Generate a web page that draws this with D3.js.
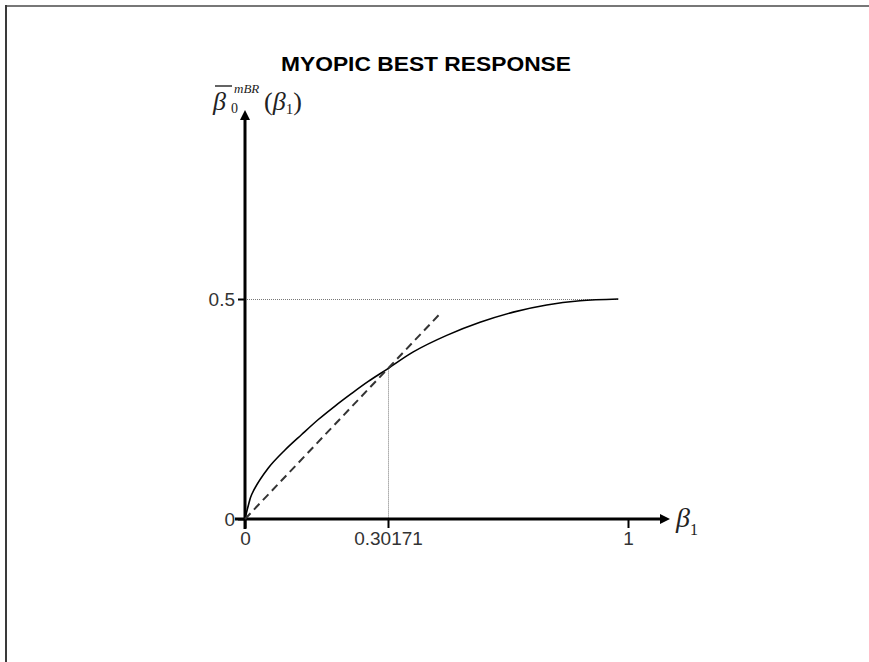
<!DOCTYPE html>
<html>
<head>
<meta charset="utf-8">
<script src="https://cdnjs.cloudflare.com/ajax/libs/d3/7.8.5/d3.min.js"></script>
<style>
  html, body { margin: 0; background: #fff; overflow: hidden; }
  svg { display: block; }
  .tick text { font-family: "Liberation Sans", Arial, sans-serif; font-size: 19px; fill: #333; }
  .math { font-family: "Liberation Serif", "Times New Roman", serif; font-style: italic; fill: #222; }
</style>
</head>
<body>
<div id="chart"></div>
<script>
// x ticks (the figure is not drawn to scale: 0.30171 sits where the curves cross)
var xTicks = [0, 0.30171, 1];
var xTickLabels = ["0", "0.30171", "1"];
var yTicks = [0, 0.5];
var yTickLabels = ["0", "0.5"];

// myopic best response curve
var brX = [0, 0.0070, 0.0141, 0.0492, 0.0844, 0.1196, 0.1547, 0.1899, 0.2251, 0.2601, 0.30171, 0.3753, 0.4725, 0.5694, 0.6663, 0.7634, 0.8603, 0.9718];
var brY = [0, 0.0307, 0.0557, 0.1159, 0.1568, 0.1920, 0.2261, 0.2568, 0.2855, 0.3127, 0.3418, 0.3798, 0.4173, 0.4470, 0.4702, 0.4864, 0.4959, 0.5];

// dashed line from the origin
var diagX = [0, 0.4559];
var diagY = [0, 0.4689];

var crossX = 0.30171;
var crossY = 0.3418;
var capY = 0.5;
var capEndX = 0.9718;

var W = 869, H = 662;

var svg = d3.select("#chart").append("svg")
    .attr("width", W)
    .attr("height", H);

svg.append("rect").attr("width", W).attr("height", H).attr("fill", "#fff");

// frame
svg.append("line").attr("x1", 6).attr("y1", 6).attr("x2", W).attr("y2", 6)
    .attr("stroke", "#777").attr("stroke-width", 2);
svg.append("line").attr("x1", 6).attr("y1", 5).attr("x2", 6).attr("y2", H)
    .attr("stroke", "#3a3a3a").attr("stroke-width", 2);

var x = d3.scaleLinear().domain(xTicks).range([245, 388, 628]);
var y = d3.scaleLinear().domain([0, 0.5]).range([519, 299]);

svg.append("defs").append("marker")
    .attr("id", "arrow")
    .attr("viewBox", "0 0 10 10")
    .attr("refX", 0).attr("refY", 5)
    .attr("markerWidth", 10).attr("markerHeight", 10)
    .attr("markerUnits", "userSpaceOnUse")
    .attr("orient", "auto")
    .append("path").attr("d", "M0,0L10,5L0,10z").attr("fill", "#000");

// reference lines (half pixel offset keeps the dots crisp)
svg.append("line")
    .attr("x1", x(0)).attr("x2", x(capEndX))
    .attr("y1", y(capY) + 0.5).attr("y2", y(capY) + 0.5)
    .attr("stroke", "#777").attr("stroke-width", 1).attr("stroke-dasharray", "1,1");
svg.append("line")
    .attr("x1", x(crossX) + 0.5).attr("x2", x(crossX) + 0.5)
    .attr("y1", y(crossY)).attr("y2", y(0))
    .attr("stroke", "#777").attr("stroke-width", 1).attr("stroke-dasharray", "1,1");

// axes
var xAxis = d3.axisBottom(x).tickValues(xTicks).tickSize(9).tickSizeOuter(0).tickPadding(4)
    .tickFormat(function (d, i) { return xTickLabels[i]; });
var yAxis = d3.axisLeft(y).tickValues(yTicks).tickSize(7).tickSizeOuter(0).tickPadding(3)
    .tickFormat(function (d, i) { return yTickLabels[i]; });

var gx = svg.append("g").attr("transform", "translate(0," + y(0) + ")").call(xAxis);
var gy = svg.append("g").attr("transform", "translate(" + x(0) + ",0)").call(yAxis);
gx.select(".domain").remove();
gy.select(".domain").remove();
svg.selectAll(".tick line").attr("stroke", "#000").attr("stroke-width", 2);

svg.append("line")
    .attr("x1", x(0) - 10).attr("x2", 660)
    .attr("y1", y(0)).attr("y2", y(0))
    .attr("stroke", "#000").attr("stroke-width", 3)
    .attr("marker-end", "url(#arrow)");
svg.append("line")
    .attr("x1", x(0)).attr("x2", x(0))
    .attr("y1", y(0) + 10).attr("y2", 120)
    .attr("stroke", "#000").attr("stroke-width", 3)
    .attr("marker-end", "url(#arrow)");

// curves
var brData = brX.map(function (d, i) { return [d, brY[i]]; });
var line = d3.line()
    .x(function (d) { return x(d[0]); })
    .y(function (d) { return y(d[1]); })
    .curve(d3.curveCatmullRom.alpha(0.5));

svg.append("path").datum(brData)
    .attr("d", line)
    .attr("fill", "none").attr("stroke", "#000").attr("stroke-width", 1.6);

var diagData = diagX.map(function (d, i) { return [d, diagY[i]]; });
svg.append("path").datum(diagData)
    .attr("d", d3.line().x(function (d) { return x(d[0]); }).y(function (d) { return y(d[1]); }))
    .attr("fill", "none").attr("stroke", "#333").attr("stroke-width", 2)
    .attr("stroke-dasharray", "8,5");

// title
svg.append("text")
    .attr("x", 426).attr("y", 71)
    .attr("text-anchor", "middle")
    .attr("textLength", 290)
    .attr("lengthAdjust", "spacingAndGlyphs")
    .style("font-family", "'Liberation Sans', Arial, sans-serif")
    .style("font-weight", "bold")
    .style("font-size", "21px")
    .attr("fill", "#000")
    .text("MYOPIC BEST RESPONSE");

// y label: beta-bar_0^mBR(beta_1)
var yl = svg.append("text").attr("class", "math").attr("x", 213).attr("y", 110).style("font-size", "26px");
yl.append("tspan").text("β");
yl.append("tspan").attr("x", 231).attr("y", 113).style("font-style", "normal").style("font-size", "14px").text("0");
yl.append("tspan").attr("x", 234).attr("y", 93).style("font-size", "13px").text("mBR");
yl.append("tspan").attr("x", 264).attr("y", 110).style("font-style", "normal").text("(");
yl.append("tspan").text("β");
yl.append("tspan").attr("y", 114).style("font-style", "normal").style("font-size", "15px").text("1");
yl.append("tspan").attr("y", 110).style("font-style", "normal").text(")");
svg.append("line").attr("x1", 215).attr("x2", 232).attr("y1", 86).attr("y2", 86)
    .attr("stroke", "#222").attr("stroke-width", 1.4);

// x label: beta_1
var xl = svg.append("text").attr("class", "math").attr("x", 676).attr("y", 527).style("font-size", "28px");
xl.append("tspan").text("β");
xl.append("tspan").attr("y", 535).style("font-style", "normal").style("font-size", "16px").text("1");
</script>
</body>
</html>
